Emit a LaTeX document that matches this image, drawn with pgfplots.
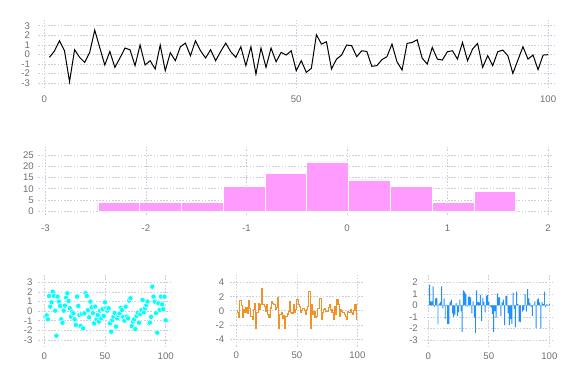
\documentclass[border=0pt]{standalone}
\usepackage{fontspec}
\setmainfont{Liberation Sans}
\usepackage{pgfplots}
\pgfplotsset{compat=1.18}
\definecolor{gridc}{RGB}{205,205,222}
\definecolor{tickc}{RGB}{110,110,120}
\definecolor{histc}{RGB}{255,154,255}
\definecolor{orangec}{RGB}{240,146,38}
\definecolor{bluec}{RGB}{30,144,255}
\definecolor{cyanc}{RGB}{0,255,255}
\pgfplotsset{
  base/.style={scale only axis, anchor=south west,
    axis line style={draw=none}, major tick length=0pt,
    grid=major, major grid style={gridc, line width=0.5pt, dash pattern=on 1.2pt off 1.2pt},
    tick label style={font=\fontsize{7.2}{8}\selectfont, text=tickc},
    /pgf/number format/assume math mode=true},
}
\begin{document}
\begin{tikzpicture}
\path (0,0) rectangle (432pt,288pt);
% top line
\begin{axis}[base, at={(28.73pt,221.78pt)}, width=388.8pt, height=51.2pt,
  xmin=-1.2, xmax=101.7, ymin=-3.55, ymax=3.6,
  xtick={0,50,100}, ytick={-3,-2,-1,0,1,2,3},
  yticklabel style={xshift=-2.8pt}, xticklabel style={yshift=-2.3pt}]
\addplot[black, line width=0.75pt, mark=none] table {
x y
1 -0.31
2 0.35
3 1.43
4 0.38
5 -2.86
6 0.49
7 -0.31
8 -0.84
9 0.21
10 2.54
11 0.70
12 -1.11
13 0.31
14 -1.36
15 -0.38
16 0.66
17 0.49
18 -1.18
19 0.98
20 -1.11
21 -0.66
22 -1.53
23 0.98
24 -1.71
25 0.18
26 -0.66
27 0.80
28 1.18
29 -0.14
30 1.43
31 0.38
32 -0.38
33 0.49
34 -0.66
35 0.31
36 1.18
37 0.28
38 -0.31
39 0.80
40 -1.18
41 0.80
42 -2.06
43 0.66
44 -1.36
45 0.66
46 -0.77
47 0.21
48 -0.07
49 0.38
50 -1.71
51 -0.66
52 -1.88
53 -1.46
54 2.06
55 1.08
56 1.32
57 -1.53
58 -0.49
59 -0.07
60 0.98
61 0.91
62 -0.24
63 0.38
64 0.31
65 -1.25
66 -1.18
67 -0.56
68 -0.24
69 1.08
70 -0.77
71 -1.64
72 1.15
73 1.25
74 1.53
75 -0.40
76 -1.01
77 0.73
78 -0.49
79 -0.59
80 0.28
81 0.38
82 -0.49
83 1.25
84 -0.66
85 0.56
86 1.15
87 -1.36
88 -0.14
89 -1.18
90 0.28
91 0.45
92 -0.14
93 -1.99
94 -0.59
95 0.80
96 -0.49
97 -0.07
98 -1.60
99 -0.07
100 -0.03
};
\end{axis}
% histogram
\begin{axis}[base, at={(28.8pt,126.75pt)}, width=385.2pt, height=51.2pt,
  xmin=-3.07, xmax=2.04, ymin=-1.64, ymax=28.7,
  xtick={-3,-2,-1,0,1,2}, ytick={0,5,10,15,20,25},
  yticklabel style={xshift=0pt}, xticklabel style={yshift=-3.6pt}]
\addplot[ybar interval, fill=histc, draw=white, line width=0.3pt] coordinates {
(-2.480,4) (-2.064,4) (-1.648,4) (-1.233,11) (-0.817,17) (-0.401,22)
(0.015,14) (0.431,11) (0.846,4) (1.262,9) (1.678,9)};
\end{axis}
% scatter
\begin{axis}[base, at={(28.73pt,27.53pt)}, width=99.3pt, height=54.2pt,
  xmin=-4.9, xmax=104.1, ymin=-3.76, ymax=3.76,
  xtick={0,50,100}, ytick={-3,-2,-1,0,1,2,3},
  yticklabel style={xshift=-0.9pt}, xticklabel style={yshift=-0.6pt}]
\addplot[only marks, mark=*, mark size=2pt, mark options={fill=cyanc, draw=white, line width=0.4pt}] table {
x y
1 -0.57
2 -0.45
3 -0.85
4 1.58
5 0.47
6 0.92
7 2.03
8 1.58
9 0.05
10 -2.55
11 1.51
12 0.99
13 0.54
14 -0.85
15 -1.2
16 0.05
17 0.57
18 1.41
19 1.86
20 1.06
21 0.3
22 -0.57
23 -0.05
24 -0.23
25 -0.85
26 -1.44
27 1.51
28 0.54
29 -0.4
30 -1.55
31 -0.3
32 -1.79
33 -0.23
34 1.86
35 1.58
36 0.1
37 -0.64
38 0.99
39 0.4
40 -0.2
41 -1.27
42 0.47
43 -0.85
44 -0.4
45 -1.09
46 0.05
47 -0.75
48 0.19
49 -0.5
50 0.92
51 0.3
52 0.05
53 0.3
54 -1.27
55 -2.14
56 -0.92
57 -0.57
58 -0.2
59 -1.61
60 -0.75
61 -0.4
62 -0.23
63 0.35
64 0.12
65 -0.6
66 -0.99
67 0.47
68 -0.57
69 -0.75
70 1.1
71 1.34
72 -1.55
73 -1.09
74 -0.85
75 -1.86
76 -0.5
77 -0.16
78 -1.2
79 -0.3
80 0.1
81 1.16
82 -0.12
83 0.3
84 0.64
85 1.0
86 -1.27
87 -1.2
88 -0.6
89 2.55
90 1.51
91 0.99
92 -0.2
93 -2.24
94 0.82
95 0.12
96 1.51
97 0.7
98 0.2
99 1.5
100 -0.95
};
\end{axis}
% step
\begin{axis}[base, at={(172.5pt,27.98pt)}, width=100pt, height=53.8pt,
  xmin=-5.2, xmax=104.9, ymin=-5.1, ymax=5.1,
  xtick={0,50,100}, ytick={-4,-2,0,2,4},
  yticklabel style={xshift=-0.9pt}, xticklabel style={yshift=-0.6pt}]
\addplot[const plot mark right, orangec, line width=0.8pt, mark=none] table {
x y
1 0.1
2 -0.2
3 -0.9
4 1.45
5 0.7
6 -0.9
7 0.2
8 -0.3
9 0.4
10 -0.4
11 1.45
12 0.3
13 -0.8
14 -1.2
15 0.2
16 1.0
17 -2.45
18 -0.2
19 1.0
20 0.25
21 0.9
22 3.2
23 0.95
24 0.6
25 -0.1
26 0.95
27 -0.55
28 -0.95
29 0.4
30 1.3
31 1.1
32 0.85
33 0.15
34 0.5
35 1.9
36 -2.45
37 -0.55
38 -0.3
39 -1.15
40 -0.6
41 -2.45
42 -0.8
43 -0.45
44 -0.1
45 1.3
46 -0.3
47 -0.4
48 0.85
49 -0.3
50 0.2
51 1.65
52 0.85
53 0.6
54 -0.3
55 0.05
56 0.35
57 0.05
58 -0.55
59 0.15
60 0.6
61 2.7
62 -2.45
63 0.85
64 -0.55
65 -0.1
66 -1.0
67 -0.8
68 0.35
69 0.3
70 1.8
71 -1.25
72 -0.3
73 0.2
74 0.35
75 -0.1
76 -0.1
77 0.5
78 0.85
79 0.15
80 -0.2
81 -1.25
82 0.6
83 -0.5
84 1.55
85 0.85
86 -0.8
87 0.25
88 -0.1
89 -0.3
90 -0.5
91 -0.8
92 -1.2
93 -0.1
94 -0.3
95 0.15
96 -0.3
97 -0.5
98 0.1
99 0.85
100 -1.25
};
\end{axis}
% bars
\begin{axis}[base, at={(317.78pt,27.53pt)}, width=97.95pt, height=54.2pt,
  xmin=-3.8, xmax=104.1, ymin=-3.63, ymax=2.63,
  xtick={0,50,100}, ytick={-3,-2,-1,0,1,2},
  yticklabel style={xshift=-0.9pt}, xticklabel style={yshift=-0.6pt}]
\addplot[ybar, bar width=0.8, fill=bluec, draw=none] table {
x y
1 1.8
2 0.35
3 0.35
4 1.65
5 -0.1
6 0.6
7 0.65
8 -1.65
9 0.15
10 0.3
11 1.65
12 -0.25
13 0.6
14 -1.2
15 0.05
16 -1.6
17 -1.6
18 0.3
19 0.5
20 -0.7
21 -1.0
22 -0.8
23 0.2
24 -0.9
25 -0.6
26 0.5
27 -0.5
28 -2.3
29 1.3
30 1.2
31 1.0
32 -0.1
33 0.75
34 0.75
35 0.7
36 -0.7
37 0.35
38 -1.05
39 -2.4
40 1.3
41 0.3
42 0.25
43 0.9
44 -1.35
45 0.65
46 0.3
47 -0.6
48 0.85
49 0.9
50 0.3
51 -0.1
52 -0.2
53 -0.75
54 -2.3
55 -0.5
56 -1.05
57 1.05
58 0.7
59 0.7
60 -0.9
61 0.25
62 0.5
63 -1.7
64 0.8
65 0.85
66 -0.7
67 -1.7
68 -1.2
69 -1.6
70 1.1
71 -0.3
72 -1.9
73 1.2
74 0.1
75 -1.4
76 -1.45
77 0.0
78 -0.55
79 -0.4
80 0.95
81 -0.55
82 1.4
83 0.6
84 0.2
85 -0.1
86 -0.9
87 0.05
88 0.35
89 -2.0
90 0.5
91 0.6
92 0.25
93 -2.0
94 0.3
95 0.1
96 1.2
97 -0.15
98 0.1
99 -0.05
100 0.15
};
\end{axis}
\end{tikzpicture}
\end{document}
